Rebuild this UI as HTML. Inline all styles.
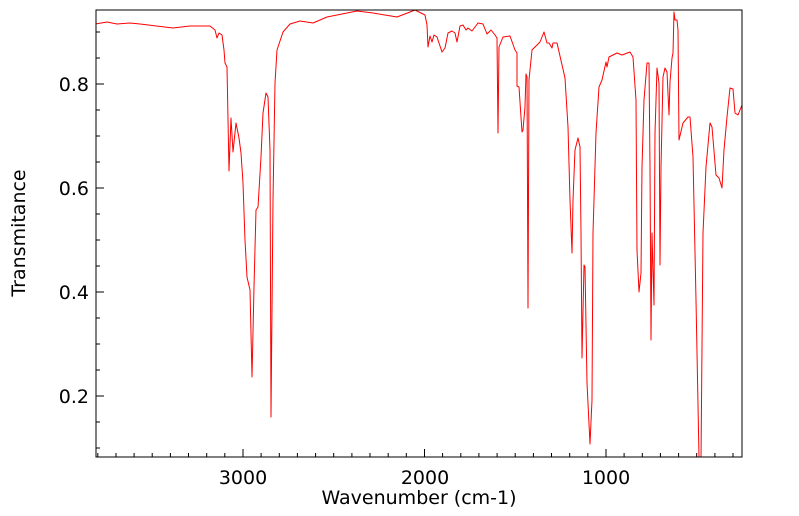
<!DOCTYPE html>
<html><head><meta charset="utf-8"><style>body{margin:0;background:#fff}svg{display:block}</style></head>
<body>
<svg width="799" height="516" xmlns="http://www.w3.org/2000/svg" font-family="DejaVu Sans, sans-serif">
<defs><clipPath id="c"><rect x="96" y="10" width="646" height="447"/></clipPath></defs>
<g clip-path="url(#c)">
<polyline fill="none" stroke="#ff0000" stroke-width="1" stroke-linejoin="round" points="
95,24 107,22 117,24 130,23 140,24 173,28 190,26 210,26 215,30 217,38 219,33 222,35 224,50 225,63 227,67 229,171 231,118 233,152 236,123 239,138 241,153 243,183 245,240 247,277 250,290 252,377 254,287 256,210 258,207 261,157 263,113 266,93 268,97 270,150 271,417 273,200 275,83 277,50 283,32 290,24 300,21 313,23 327,17 357,11 373,13 397,17 410,12 415,10 425,15 427,25 428,47 430,36 432,42 434,35 437,37 442,52 445,48 448,33 452,31 455,33 457,42 460,26 463,25 466,30 468,28 472,31 478,23 483,24 487,34 491,30 495,35 497,38 498,133 499,47 503,37 510,36 515,50 517,53 517,86 519,87 522,132 523,130 525,107 526,74 527,77 528,308 529,80 532,50 540,42 544,32 547,43 549,43 552,48 553,43 557,43 565,78 568,127 570,200 572,253 573,200 575,150 578,138 580,147 581,233 582,358 584,265 585,267 587,383 590,444 592,400 593,233 596,133 599,87 602,80 606,62 607,67 609,57 617,53 622,55 630,52 633,57 636,100 637,250 639,292 641,273 642,167 644,100 647,63 649,63 650,167 651,340 652,233 654,305 655,133 657,68 659,83 660,265 661,167 663,77 665,68 667,72 669,115 670,82 672,58 673,53 674,12 675,20 677,20 678,30 679,140 683,123 688,117 690,117 693,157 696,300 699,457 701,460 703,233 706,167 710,123 712,127 716,175 719,178 722,188 724,150 727,117 730,88 733,89 735,113 738,115 742,105"/>
</g>
<rect x="96" y="10" width="646" height="447" fill="none" stroke="#000" stroke-width="1"/>
<g stroke="#000" stroke-width="1">
<path d="M97.8,457v-4M116,457v-4M134.1,457v-4M152.2,457v-4M170.4,457v-4M188.5,457v-4M206.7,457v-4M224.8,457v-4M243,457v-8M261.1,457v-4M279.3,457v-4M297.4,457v-4M315.6,457v-4M333.7,457v-4M351.9,457v-4M370,457v-4M388.2,457v-4M406.3,457v-4M424.5,457v-8M442.6,457v-4M460.8,457v-4M478.9,457v-4M497.1,457v-4M515.2,457v-4M533.4,457v-4M551.5,457v-4M569.7,457v-4M587.8,457v-4M606,457v-8M624.1,457v-4M642.3,457v-4M660.4,457v-4M678.6,457v-4M696.7,457v-4M714.9,457v-4M733,457v-4"/>
<path d="M96,448h4M96,422h4M96,396h8M96,370h4M96,344h4M96,318h4M96,292h8M96,266h4M96,240h4M96,214h4M96,188h8M96,162h4M96,136h4M96,110h4M96,84h8M96,58h4M96,32h4"/>
</g>
<g font-size="19" fill="#000">
<text x="89" y="91" text-anchor="end">0.8</text>
<text x="89" y="195" text-anchor="end">0.6</text>
<text x="89" y="299" text-anchor="end">0.4</text>
<text x="89" y="403" text-anchor="end">0.2</text>
<text x="243" y="484" text-anchor="middle">3000</text>
<text x="425" y="484" text-anchor="middle">2000</text>
<text x="606" y="484" text-anchor="middle">1000</text>
<text x="419" y="504" text-anchor="middle">Wavenumber (cm-1)</text>
<text transform="translate(25,233) rotate(-90)" text-anchor="middle">Transmitance</text>
</g>
</svg>
</body></html>
